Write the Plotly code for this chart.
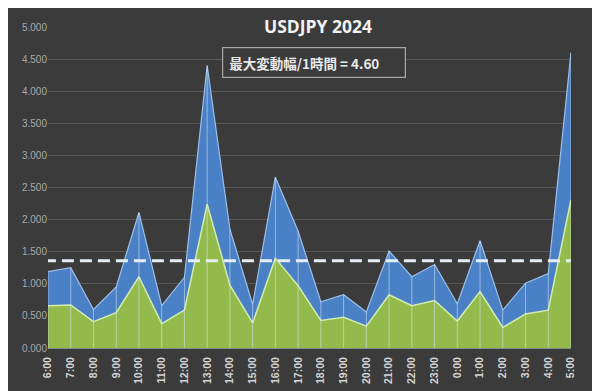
import plotly.graph_objects as go

hours = ["6:00","7:00","8:00","9:00","10:00","11:00","12:00","13:00","14:00","15:00","16:00","17:00",
         "18:00","19:00","20:00","21:00","22:00","23:00","0:00","1:00","2:00","3:00","4:00","5:00"]
max_range = [1.19,1.25,0.60,0.95,2.11,0.66,1.10,4.40,1.85,0.68,2.66,1.82,
             0.72,0.83,0.56,1.51,1.11,1.30,0.69,1.67,0.59,1.01,1.16,4.60]
avg_range = [0.66,0.67,0.41,0.55,1.11,0.38,0.59,2.24,0.98,0.39,1.40,0.97,
             0.43,0.48,0.34,0.83,0.66,0.74,0.42,0.88,0.32,0.53,0.59,2.31]
threshold = 1.36
y_ticks = [0,0.5,1,1.5,2,2.5,3,3.5,4,4.5,5]
title_text = "USDJPY 2024"
box_text = "最大変動幅/1時間 = 4.60"

BG = "#3b3b3b"
fig = go.Figure()
fig.add_trace(go.Scatter(x=hours, y=max_range, mode="lines", fill="tozeroy",
                         fillcolor="#4a80c6", line=dict(color="#9dc0ea", width=1.2)))
fig.add_trace(go.Scatter(x=hours, y=avg_range, mode="lines", fill="tozeroy",
                         fillcolor="#93bb4c", line=dict(color="#d2ecb0", width=1.5)))
# drop lines
dx, dy = [], []
for h, v in zip(hours, max_range):
    dx += [h, h, None]
    dy += [0, v, None]
fig.add_trace(go.Scatter(x=dx, y=dy, mode="lines",
                         line=dict(color="rgba(215,230,245,0.55)", width=1)))
fig.add_shape(type="line", xref="x", yref="y", x0=-0.18, x1=23.3, y0=threshold, y1=threshold,
              line=dict(color="#e6eef5", width=3, dash="12px,6px"))
# bottom frame strip
fig.add_shape(type="line", xref="paper", yref="paper", x0=-0.08, x1=1.08, y0=-0.155, y1=-0.155,
              line=dict(color="#6c6c6c", width=3))

fig.add_annotation(x=0.5, y=1.0, xref="paper", yref="paper", xanchor="center", yanchor="middle",
                   yshift=1, xshift=8,
                   text="<b>" + title_text + "</b>", showarrow=False,
                   font=dict(family="Open Sans, Liberation Sans, sans-serif", size=17.5, color="#f2f2f2"))
fig.add_annotation(x=0.5, y=0.888, xref="paper", yref="paper", xanchor="center", yanchor="middle",
                   xshift=4,
                   text="<b>&nbsp;" + box_text + "</b>", showarrow=False, width=176, height=23, align="left",
                   bordercolor="#a8a8a8", borderwidth=1.2, borderpad=3, bgcolor=BG,
                   font=dict(family="Noto Sans CJK JP, sans-serif", size=13.5, color="#e8e8e8"))

fig.update_layout(
    width=600, height=391, showlegend=False,
    paper_bgcolor=BG, plot_bgcolor=BG,
    margin=dict(l=40, r=37, t=19, b=51),
    xaxis=dict(type="category", range=[0, 23], tickangle=-90, showgrid=False, zeroline=False,
               ticks="outside", ticklen=4, tickcolor=BG,
               tickfont=dict(family="Liberation Sans, sans-serif", size=10.5, color="#d4d4d4", weight=600),
               showline=True, linecolor="#8a8a8a", linewidth=1),
    yaxis=dict(range=[0, 5], tickvals=y_ticks, tickformat=".3f", gridcolor="#565656", gridwidth=1,
               zeroline=False, ticks="", showline=False,
               tickfont=dict(family="Liberation Sans, sans-serif", size=10, color="#a8a8a8")),
)
fig.write_html("out.html")
